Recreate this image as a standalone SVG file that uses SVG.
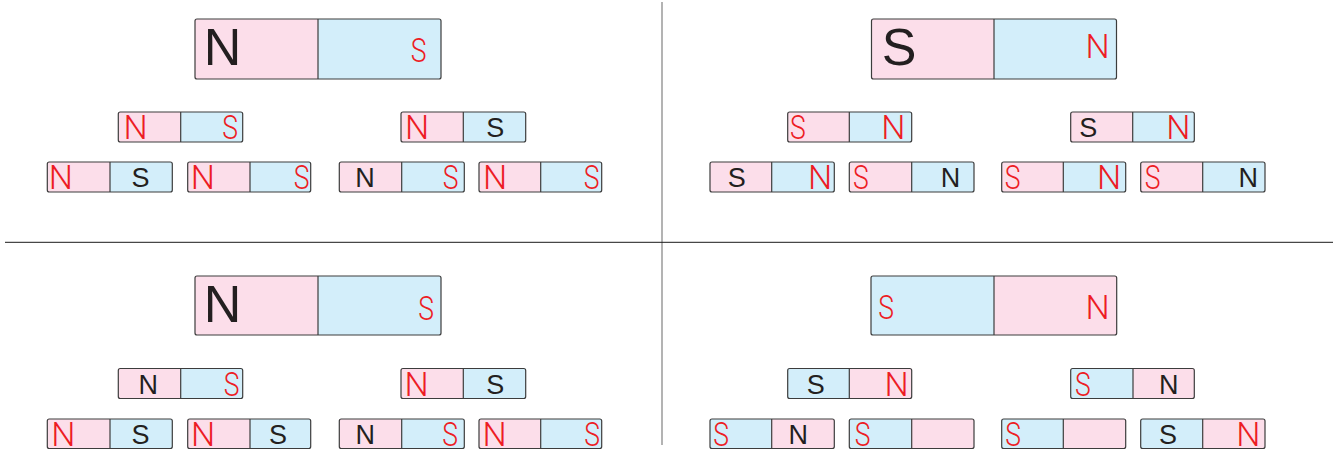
<svg xmlns="http://www.w3.org/2000/svg" width="1333" height="454" viewBox="0 0 1333 454">
<style>
.bg{fill:#ffffff}
.p{fill:#fcdeea}
.b{fill:#d3eefa}
.o{fill:none;stroke:#3c3c3c;stroke-width:1.2}
.d{stroke:#3c3c3c;stroke-width:1.2}
.k{font-family:"Liberation Sans",Arial,sans-serif;fill:#231f20;text-anchor:middle;font-size:27px}
.kb{font-size:52px}
.r{font-family:Roboto,"Liberation Sans",sans-serif;font-weight:300;fill:#ed1c24;text-anchor:middle;font-size:34px}
</style>
<rect class="bg" x="0" y="0" width="1333" height="454"/>
<g id="connectors">
<line x1="662" y1="2" x2="662" y2="445" stroke="#8a8a8a" stroke-width="1.3"/>
<line x1="5" y1="242.3" x2="1333" y2="242.3" stroke="#1a1a1a" stroke-width="1"/>
</g>

<!-- Top-left quadrant -->
<g id="tl-big">
<rect class="p" x="195" y="19" width="123" height="60"/><rect class="b" x="318" y="19" width="123" height="60"/>
<line class="d" x1="318" y1="19" x2="318" y2="79"/><rect class="o" x="195" y="19" width="246" height="60" rx="2"/>
<text class="k kb" x="222.5" y="65">N</text>
<text class="r" transform="translate(418.5,62) scale(0.78,1)">S</text>
</g>
<g id="tl-r1a">
<rect class="p" x="118.3" y="112" width="62.4" height="30"/><rect class="b" x="180.7" y="112" width="62" height="30"/>
<line class="d" x1="180.7" y1="112" x2="180.7" y2="142"/><rect class="o" x="118.3" y="112" width="124.4" height="30" rx="2"/>
<text class="r" x="135.5" y="139">N</text>
<text class="r" transform="translate(230,139) scale(0.78,1)">S</text>
</g>
<g id="tl-r1b">
<rect class="p" x="401" y="112" width="62.3" height="30"/><rect class="b" x="463.3" y="112" width="62.4" height="30"/>
<line class="d" x1="463.3" y1="112" x2="463.3" y2="142"/><rect class="o" x="401" y="112" width="124.7" height="30" rx="2"/>
<text class="r" x="417" y="139">N</text>
<text class="k" x="495.3" y="137">S</text>
</g>
<g id="tl-r2a">
<rect class="p" x="47.3" y="162" width="62.7" height="30"/><rect class="b" x="110" y="162" width="62.3" height="30"/>
<line class="d" x1="110" y1="162" x2="110" y2="192"/><rect class="o" x="47.3" y="162" width="125" height="30" rx="2"/>
<text class="r" x="60.8" y="189">N</text>
<text class="k" x="140.5" y="187">S</text>
</g>
<g id="tl-r2b">
<rect class="p" x="187.7" y="162" width="62.3" height="30"/><rect class="b" x="250" y="162" width="60.7" height="30"/>
<line class="d" x1="250" y1="162" x2="250" y2="192"/><rect class="o" x="187.7" y="162" width="123" height="30" rx="2"/>
<text class="r" x="202.8" y="189">N</text>
<text class="r" transform="translate(301.7,189) scale(0.78,1)">S</text>
</g>
<g id="tl-r2c">
<rect class="p" x="339.3" y="162" width="62.4" height="30"/><rect class="b" x="401.7" y="162" width="62.6" height="30"/>
<line class="d" x1="401.7" y1="162" x2="401.7" y2="192"/><rect class="o" x="339.3" y="162" width="125" height="30" rx="2"/>
<text class="k" x="365" y="187">N</text>
<text class="r" transform="translate(450.5,189) scale(0.78,1)">S</text>
</g>
<g id="tl-r2d">
<rect class="p" x="479" y="162" width="61.7" height="30"/><rect class="b" x="540.7" y="162" width="61" height="30"/>
<line class="d" x1="540.7" y1="162" x2="540.7" y2="192"/><rect class="o" x="479" y="162" width="122.7" height="30" rx="2"/>
<text class="r" x="495" y="189">N</text>
<text class="r" transform="translate(591.7,189) scale(0.78,1)">S</text>
</g>

<!-- Top-right quadrant -->
<g id="tr-big">
<rect class="p" x="871.5" y="19" width="122.5" height="60"/><rect class="b" x="994" y="19" width="122.5" height="60"/>
<line class="d" x1="994" y1="19" x2="994" y2="79"/><rect class="o" x="871.5" y="19" width="245" height="60" rx="2"/>
<text class="k kb" x="899" y="65">S</text>
<text class="r" x="1097.7" y="58">N</text>
</g>
<g id="tr-r1a">
<rect class="p" x="787.7" y="112" width="61.6" height="30"/><rect class="b" x="849.3" y="112" width="62.4" height="30"/>
<line class="d" x1="849.3" y1="112" x2="849.3" y2="142"/><rect class="o" x="787.7" y="112" width="124" height="30" rx="2"/>
<text class="r" transform="translate(797.8,139) scale(0.78,1)">S</text>
<text class="r" x="893.3" y="139">N</text>
</g>
<g id="tr-r1b">
<rect class="p" x="1070.7" y="112" width="62" height="30"/><rect class="b" x="1132.7" y="112" width="61.6" height="30"/>
<line class="d" x1="1132.7" y1="112" x2="1132.7" y2="142"/><rect class="o" x="1070.7" y="112" width="123.6" height="30" rx="2"/>
<text class="k" x="1088.3" y="137">S</text>
<text class="r" x="1178.3" y="139">N</text>
</g>
<g id="tr-r2a">
<rect class="p" x="710" y="162" width="61.7" height="30"/><rect class="b" x="771.7" y="162" width="62.6" height="30"/>
<line class="d" x1="771.7" y1="162" x2="771.7" y2="192"/><rect class="o" x="710" y="162" width="124.3" height="30" rx="2"/>
<text class="k" x="736.7" y="187">S</text>
<text class="r" x="820" y="189">N</text>
</g>
<g id="tr-r2b">
<rect class="p" x="849.3" y="162" width="62.4" height="30"/><rect class="b" x="911.7" y="162" width="62.3" height="30"/>
<line class="d" x1="911.7" y1="162" x2="911.7" y2="192"/><rect class="o" x="849.3" y="162" width="124.7" height="30" rx="2"/>
<text class="r" transform="translate(860.8,189) scale(0.78,1)">S</text>
<text class="k" x="950.5" y="187">N</text>
</g>
<g id="tr-r2c">
<rect class="p" x="1001.7" y="162" width="61.6" height="30"/><rect class="b" x="1063.3" y="162" width="62.4" height="30"/>
<line class="d" x1="1063.3" y1="162" x2="1063.3" y2="192"/><rect class="o" x="1001.7" y="162" width="124" height="30" rx="2"/>
<text class="r" transform="translate(1012.5,189) scale(0.78,1)">S</text>
<text class="r" x="1109.2" y="189">N</text>
</g>
<g id="tr-r2d">
<rect class="p" x="1140.7" y="162" width="62" height="30"/><rect class="b" x="1202.7" y="162" width="62.3" height="30"/>
<line class="d" x1="1202.7" y1="162" x2="1202.7" y2="192"/><rect class="o" x="1140.7" y="162" width="124.3" height="30" rx="2"/>
<text class="r" transform="translate(1152.5,189) scale(0.78,1)">S</text>
<text class="k" x="1248.3" y="187">N</text>
</g>

<!-- Bottom-left quadrant -->
<g id="bl-big">
<rect class="p" x="195" y="276" width="123" height="59"/><rect class="b" x="318" y="276" width="123" height="59"/>
<line class="d" x1="318" y1="276" x2="318" y2="335"/><rect class="o" x="195" y="276" width="246" height="59" rx="2"/>
<text class="k kb" x="222.5" y="322">N</text>
<text class="r" transform="translate(426,320) scale(0.78,1)">S</text>
</g>
<g id="bl-r1a">
<rect class="p" x="118.3" y="368.5" width="62.4" height="30"/><rect class="b" x="180.7" y="368.5" width="62" height="30"/>
<line class="d" x1="180.7" y1="368.5" x2="180.7" y2="398.5"/><rect class="o" x="118.3" y="368.5" width="124.4" height="30" rx="2"/>
<text class="k" x="148.3" y="393.5">N</text>
<text class="r" transform="translate(231.7,395.5) scale(0.78,1)">S</text>
</g>
<g id="bl-r1b">
<rect class="p" x="401" y="368.5" width="62.3" height="30"/><rect class="b" x="463.3" y="368.5" width="62.4" height="30"/>
<line class="d" x1="463.3" y1="368.5" x2="463.3" y2="398.5"/><rect class="o" x="401" y="368.5" width="124.7" height="30" rx="2"/>
<text class="r" x="416.7" y="395.5">N</text>
<text class="k" x="495.3" y="393.5">S</text>
</g>
<g id="bl-r2a">
<rect class="p" x="47.3" y="419" width="62.7" height="29.5"/><rect class="b" x="110" y="419" width="62.3" height="29.5"/>
<line class="d" x1="110" y1="419" x2="110" y2="448.5"/><rect class="o" x="47.3" y="419" width="125" height="29.5" rx="2"/>
<text class="r" x="63.3" y="446">N</text>
<text class="k" x="140.5" y="444">S</text>
</g>
<g id="bl-r2b">
<rect class="p" x="187.7" y="419" width="62.3" height="29.5"/><rect class="b" x="250" y="419" width="60.7" height="29.5"/>
<line class="d" x1="250" y1="419" x2="250" y2="448.5"/><rect class="o" x="187.7" y="419" width="123" height="29.5" rx="2"/>
<text class="r" x="203" y="446">N</text>
<text class="k" x="278" y="444">S</text>
</g>
<g id="bl-r2c">
<rect class="p" x="339.3" y="419" width="62.4" height="29.5"/><rect class="b" x="401.7" y="419" width="62.6" height="29.5"/>
<line class="d" x1="401.7" y1="419" x2="401.7" y2="448.5"/><rect class="o" x="339.3" y="419" width="125" height="29.5" rx="2"/>
<text class="k" x="365.3" y="444">N</text>
<text class="r" transform="translate(450,446) scale(0.78,1)">S</text>
</g>
<g id="bl-r2d">
<rect class="p" x="479" y="419" width="61.7" height="29.5"/><rect class="b" x="540.7" y="419" width="61" height="29.5"/>
<line class="d" x1="540.7" y1="419" x2="540.7" y2="448.5"/><rect class="o" x="479" y="419" width="122.7" height="29.5" rx="2"/>
<text class="r" x="494.5" y="446">N</text>
<text class="r" transform="translate(592,446) scale(0.78,1)">S</text>
</g>

<!-- Bottom-right quadrant -->
<g id="br-big">
<rect class="b" x="871" y="276" width="123" height="59"/><rect class="p" x="994" y="276" width="122.7" height="59"/>
<line class="d" x1="994" y1="276" x2="994" y2="335"/><rect class="o" x="871" y="276" width="245.7" height="59" rx="2"/>
<text class="r" transform="translate(886,319) scale(0.78,1)">S</text>
<text class="r" x="1097.7" y="319">N</text>
</g>
<g id="br-r1a">
<rect class="b" x="787.7" y="368.5" width="61.6" height="30"/><rect class="p" x="849.3" y="368.5" width="62.4" height="30"/>
<line class="d" x1="849.3" y1="368.5" x2="849.3" y2="398.5"/><rect class="o" x="787.7" y="368.5" width="124" height="30" rx="2"/>
<text class="k" x="815.7" y="393.5">S</text>
<text class="r" x="896.7" y="395.5">N</text>
</g>
<g id="br-r1b">
<rect class="b" x="1070.7" y="368.5" width="62.3" height="30"/><rect class="p" x="1133" y="368.5" width="61.3" height="30"/>
<line class="d" x1="1133" y1="368.5" x2="1133" y2="398.5"/><rect class="o" x="1070.7" y="368.5" width="123.6" height="30" rx="2"/>
<text class="r" transform="translate(1082.8,395.5) scale(0.78,1)">S</text>
<text class="k" x="1168.7" y="393.5">N</text>
</g>
<g id="br-r2a">
<rect class="b" x="710" y="419" width="61.7" height="29.5"/><rect class="p" x="771.7" y="419" width="62.6" height="29.5"/>
<line class="d" x1="771.7" y1="419" x2="771.7" y2="448.5"/><rect class="o" x="710" y="419" width="124.3" height="29.5" rx="2"/>
<text class="r" transform="translate(721.2,446) scale(0.78,1)">S</text>
<text class="k" x="798.3" y="444">N</text>
</g>
<g id="br-r2b">
<rect class="b" x="849.3" y="419" width="62.4" height="29.5"/><rect class="p" x="911.7" y="419" width="62.3" height="29.5"/>
<line class="d" x1="911.7" y1="419" x2="911.7" y2="448.5"/><rect class="o" x="849.3" y="419" width="124.7" height="29.5" rx="2"/>
<text class="r" transform="translate(862.5,446) scale(0.78,1)">S</text>
</g>
<g id="br-r2c">
<rect class="b" x="1001.7" y="419" width="61.6" height="29.5"/><rect class="p" x="1063.3" y="419" width="62.4" height="29.5"/>
<line class="d" x1="1063.3" y1="419" x2="1063.3" y2="448.5"/><rect class="o" x="1001.7" y="419" width="124" height="29.5" rx="2"/>
<text class="r" transform="translate(1013,446) scale(0.78,1)">S</text>
</g>
<g id="br-r2d">
<rect class="b" x="1140.7" y="419" width="62" height="29.5"/><rect class="p" x="1202.7" y="419" width="62.3" height="29.5"/>
<line class="d" x1="1202.7" y1="419" x2="1202.7" y2="448.5"/><rect class="o" x="1140.7" y="419" width="124.3" height="29.5" rx="2"/>
<text class="k" x="1168" y="444">S</text>
<text class="r" x="1248.3" y="446">N</text>
</g>
</svg>
